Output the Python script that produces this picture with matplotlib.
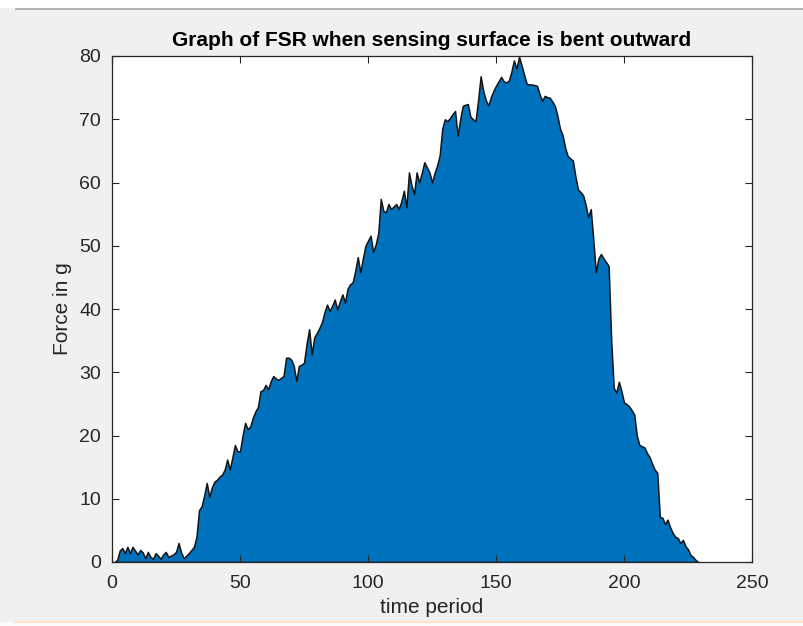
import matplotlib
matplotlib.use("Agg")
import matplotlib.pyplot as plt
from matplotlib.lines import Line2D
from matplotlib.patches import Rectangle

# ---- data ----
time_period = list(range(1, 230))
force_g = [
    0.0, 0.3, 1.8, 2.2, 1.4, 2.4, 1.4, 2.4, 1.8, 1.2,
    1.9, 1.5, 0.6, 1.6, 0.8, 0.5, 1.4, 1.0, 0.5, 1.2,
    1.6, 0.8, 1.0, 1.2, 1.6, 3.0, 1.5, 0.6, 1.0, 1.4,
    1.9, 2.4, 4.0, 8.2, 8.8, 10.5, 12.5, 10.3, 11.8, 12.7,
    13.0, 13.5, 13.8, 14.6, 16.2, 14.6, 16.5, 18.5, 17.5, 17.5,
    20.0, 22.0, 21.0, 21.4, 22.8, 23.8, 24.5, 27.0, 27.2, 28.0,
    27.3, 28.6, 29.4, 29.0, 28.8, 29.1, 29.4, 32.3, 32.3, 32.0,
    31.0, 28.6, 31.0, 31.2, 31.5, 34.5, 36.8, 32.8, 35.5, 36.2,
    37.0, 37.9, 39.5, 40.7, 39.7, 40.5, 41.5, 39.9, 41.2, 42.3,
    41.0, 43.2, 43.9, 44.2, 46.0, 48.2, 45.8, 48.0, 50.0, 50.8,
    51.6, 49.0, 50.2, 52.0, 57.4, 55.5, 55.3, 56.6, 55.8, 56.2,
    56.6, 55.8, 57.0, 58.7, 56.1, 61.6, 59.5, 58.2, 61.6, 60.0,
    61.5, 63.2, 62.4, 61.6, 60.0, 61.5, 62.7, 64.3, 68.5, 70.0,
    69.7, 70.2, 70.8, 71.3, 67.4, 70.0, 72.1, 72.3, 72.4, 70.4,
    70.0, 69.7, 73.0, 76.8, 74.5, 73.0, 72.2, 73.5, 74.5, 75.3,
    76.0, 76.7, 76.0, 75.8, 76.1, 77.5, 79.3, 78.0, 79.9, 78.5,
    77.0, 75.6, 75.5, 75.5, 75.4, 75.3, 74.0, 72.9, 73.7, 73.5,
    73.4, 72.8, 72.1, 70.5, 68.5, 67.5, 65.5, 64.2, 63.8, 63.5,
    61.0, 58.9, 58.5, 58.0, 56.5, 54.5, 55.8, 51.0, 45.8, 48.0,
    48.7, 48.0, 47.4, 46.8, 35.0, 27.5, 26.8, 28.5, 27.0, 25.2,
    25.0, 24.6, 24.0, 23.3, 20.0, 18.5, 18.3, 18.1, 17.2, 16.6,
    15.5, 14.6, 14.1, 7.1, 7.0, 6.0, 6.7, 5.5, 4.6, 4.0,
    3.8, 3.0, 3.5, 2.5, 2.0, 1.1, 0.8, 0.3, 0.0,
]
x_ticks = [0, 50, 100, 150, 200, 250]
y_ticks = [0, 10, 20, 30, 40, 50, 60, 70, 80]
title_text = "Graph of FSR when sensing surface is bent outward"
x_label = "time period"
y_label = "Force in g"

plt.rcParams["font.family"] = ["Liberation Sans", "DejaVu Sans"]

W, H = 804, 626
fig = plt.figure(figsize=(W / 100, H / 100), dpi=100, facecolor="#f0f0f0")

# screenshot chrome: white strip on top, grey rule, orange rule at bottom
fig.add_artist(Rectangle((0, 1 - 8 / H), 1, 8 / H, transform=fig.transFigure,
                         facecolor="white", edgecolor="none"))
fig.add_artist(Line2D([0.02, 1], [1 - 9 / H, 1 - 9 / H], transform=fig.transFigure,
                      color="#a8a8a8", lw=1.2))
fig.add_artist(Rectangle((0, 0), 1, 4 / H, transform=fig.transFigure,
                         facecolor="#fbfbfb", edgecolor="none"))
fig.add_artist(Line2D([0.02, 1], [4 / H, 4 / H], transform=fig.transFigure,
                      color="#fde3c8", lw=1.5))

left, right, top, bottom = 112, 752, 56, 562
ax = fig.add_axes([left / W, 1 - bottom / H, (right - left) / W, (bottom - top) / H])
ax.set_facecolor("white")

ax.fill_between(time_period, 0, force_g, facecolor="#0072BD",
                edgecolor="#141414", linewidth=1.1)

ax.set_xlim(0, 250)
ax.set_ylim(0, 80)
ax.set_xticks(x_ticks)
ax.set_yticks(y_ticks)

axcol = "#262626"
for s in ax.spines.values():
    s.set_color(axcol)
    s.set_linewidth(0.9)
ax.tick_params(axis="both", direction="in", length=5, width=0.8, color=axcol,
               labelcolor=axcol, labelsize=14, top=True, right=True)
ax.tick_params(axis="x", pad=9)
ax.tick_params(axis="y", pad=8)

ax.set_title(title_text, fontsize=15, fontweight="bold", color="black", pad=7)
ax.set_xlabel(x_label, fontsize=15, color=axcol, labelpad=5)
ax.set_ylabel(y_label, fontsize=15, color=axcol, labelpad=5)

fig.savefig("out.png", dpi=100, facecolor=fig.get_facecolor())
